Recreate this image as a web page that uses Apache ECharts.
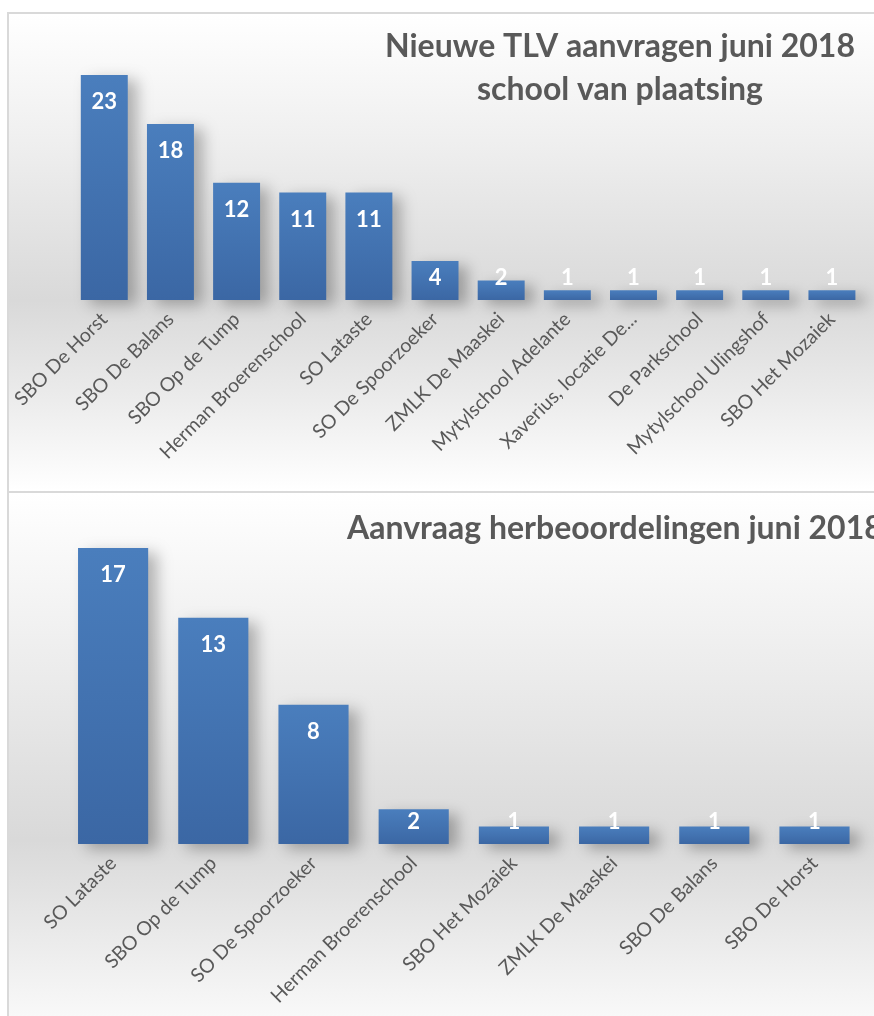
<!DOCTYPE html>
<html>
<head>
<meta charset="utf-8">
<script src="https://cdn.jsdelivr.net/npm/echarts@6/dist/echarts.min.js"></script>
<style>
  html, body { margin: 0; padding: 0; background: #ffffff; width: 874px; height: 1016px; overflow: hidden; position: relative; }
  .box { position: absolute; border: 2px solid #d9d9d9; box-sizing: content-box;
         background: linear-gradient(to bottom, #ffffff 0%, #f0f0f0 25%, #d9d9d9 60%, #ebebeb 80%, #ffffff 100%); }
  #c1 { left: 7px; top: 12px; width: 880px; height: 477px; }
  #c2 { left: 7px; top: 491px; width: 880px; height: 560px;
        background: linear-gradient(to bottom, #ffffff 0%, #f0f0f0 25%, #d9d9d9 62%, #ebebeb 80%, #ffffff 100%); }
</style>
</head>
<body>
<div id="c1" class="box"></div>
<div id="c2" class="box"></div>
<script>
// ---- Chart 1 data ----
const title1 = "Nieuwe TLV aanvragen juni 2018\nschool van plaatsing";
const categories1 = ["SBO De Horst", "SBO De Balans", "SBO Op de Tump", "Herman Broerenschool", "SO Lataste",
  "SO De Spoorzoeker", "ZMLK De Maaskei", "Mytylschool Adelante", "Xaverius, locatie De...",
  "De Parkschool", "Mytylschool Ulingshof", "SBO Het Mozaiek"];
const values1 = [23, 18, 12, 11, 11, 4, 2, 1, 1, 1, 1, 1];

// ---- Chart 2 data ----
const title2 = "Aanvraag herbeoordelingen juni 2018";
const categories2 = ["SO Lataste", "SBO Op de Tump", "SO De Spoorzoeker", "Herman Broerenschool",
  "SBO Het Mozaiek", "ZMLK De Maaskei", "SBO De Balans", "SBO De Horst"];
const values2 = [17, 13, 8, 2, 1, 1, 1, 1];

const FONT = "Lato, 'Noto Sans', sans-serif";
const TEXT = "#595959";

function barColor() {
  return new echarts.graphic.LinearGradient(0, 0, 0, 1, [
    { offset: 0, color: "#4a7ebd" },
    { offset: 1, color: "#3b67a4" }
  ]);
}

function makeData(values, axisMax) {
  return values.map(v => {
    const small = v / axisMax < 0.2;
    return {
      value: v,
      label: small ? { position: "insideBottom", distance: 11 } : { position: "insideTop", distance: 16 }
    };
  });
}

function makeOption(cfg) {
  return {
    animation: false,
    title: cfg.title,
    grid: cfg.grid,
    xAxis: {
      type: "category",
      data: cfg.categories,
      axisLine: { show: false },
      axisTick: { show: false },
      axisLabel: {
        interval: 0, rotate: 45, margin: cfg.labelMargin,
        color: TEXT, fontFamily: FONT, fontSize: cfg.labelSize
      }
    },
    yAxis: {
      type: "value", min: 0, max: cfg.max, show: false,
      splitLine: { show: false }
    },
    series: [{
      type: "bar",
      data: makeData(cfg.values, cfg.max),
      barCategoryGap: cfg.gap,
      itemStyle: {
        color: barColor(),
        shadowColor: "rgba(0,0,0,0.28)",
        shadowBlur: 14,
        shadowOffsetX: 9,
        shadowOffsetY: 5
      },
      label: {
        show: true,
        color: "#ffffff",
        fontFamily: FONT,
        fontWeight: "bold",
        fontSize: 22,
        lineHeight: 22
      }
    }]
  };
}

const chart1 = echarts.init(document.getElementById("c1"), null, { renderer: "canvas" });
chart1.setOption(makeOption({
  title: {
    text: title1, left: 606, top: 6, textAlign: "center",
    textStyle: { color: TEXT, fontFamily: FONT, fontWeight: "bold", fontSize: 32, lineHeight: 43 }
  },
  grid: { left: 60, right: 24, top: 41.5, bottom: 477 - 286 },
  categories: categories1, values: values1, max: 25, gap: "29%",
  labelMargin: 16, labelSize: 19.5
}));

const chart2 = echarts.init(document.getElementById("c2"), null, { renderer: "canvas" });
chart2.setOption(makeOption({
  title: {
    text: title2, left: 333, top: 9, textAlign: "left",
    textStyle: { color: TEXT, fontFamily: FONT, fontWeight: "bold", fontSize: 32, lineHeight: 43 }
  },
  grid: { left: 54, right: 880 - 855.6, top: 37.6, bottom: 560 - 351 },
  categories: categories2, values: values2, max: 18, gap: "30%",
  labelMargin: 16, labelSize: 19.5
}));
</script>
</body>
</html>
